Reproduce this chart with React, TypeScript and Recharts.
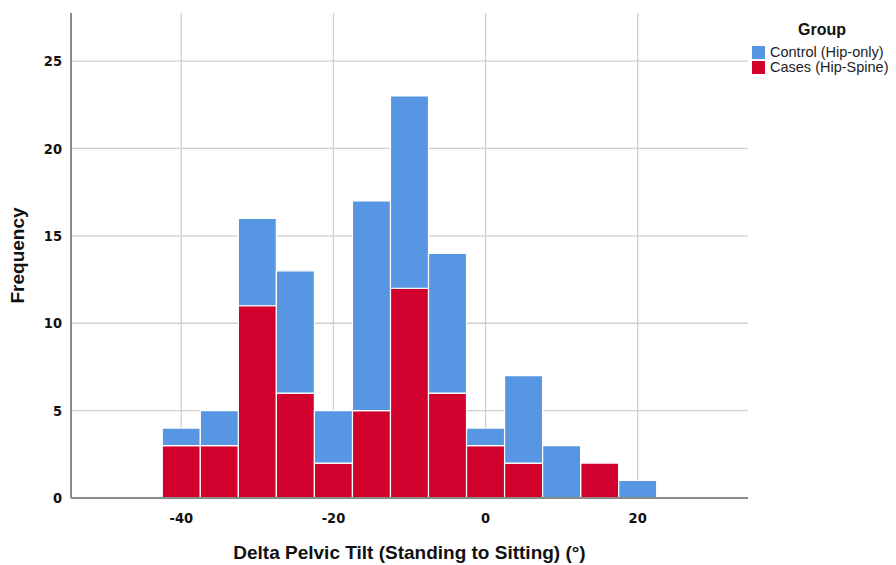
import React from "react";
import {
  ComposedChart,
  Bar,
  XAxis,
  YAxis,
  CartesianGrid,
} from "recharts";

// histogram bin centers (5° wide bins)
const binCenters = [-40, -35, -30, -25, -20, -15, -10, -5, 0, 5, 10, 15, 20];
const casesCounts = [3, 3, 11, 6, 2, 5, 12, 6, 3, 2, 0, 2, 0];
const controlCounts = [1, 2, 5, 7, 3, 12, 11, 8, 1, 5, 3, 0, 1];
const xTicks = [-40, -20, 0, 20];
const yTicks = [0, 5, 10, 15, 20, 25];

const BLUE = "#5696e3";
const RED = "#d2002c";
const tickFont = "'DejaVu Sans Condensed', 'Liberation Sans Narrow', 'Liberation Sans', Arial, sans-serif";
const labelFont = "'Liberation Sans', Arial, sans-serif";

const data = binCenters.map((bin, i) => ({
  bin,
  cases: casesCounts[i],
  control: controlCounts[i],
}));

export default function App() {
  return (
    <div
      style={{
        position: "fixed",
        left: 0,
        top: 0,
        width: 896,
        height: 565,
        background: "#fff",
        fontFamily: labelFont,
      }}
    >
      <ComposedChart
        width={896}
        height={565}
        data={data}
        margin={{ top: 13, right: 148, bottom: 0, left: 0 }}
        barCategoryGap={0}
        barGap={0}
      >
        <CartesianGrid stroke="#cfcfcf" strokeWidth={1.3} horizontalValues={yTicks} verticalValues={xTicks} />
        <XAxis
          dataKey="bin"
          type="number"
          domain={[-54.5, 34.5]}
          ticks={xTicks}
          allowDataOverflow
          height={67}
          tickLine={false}
          axisLine={{ stroke: "#8a8a8a", strokeWidth: 2 }}
          tick={{ fill: "#111", fontSize: 14.5, fontWeight: 700, fontFamily: tickFont }}
          tickMargin={9}
          label={{
            value: "Delta Pelvic Tilt (Standing to Sitting) (°)",
            position: "insideBottom",
            offset: 6,
            fill: "#111",
            fontSize: 19,
            fontWeight: 700,
            fontFamily: labelFont,
          }}
        />
        <YAxis
          type="number"
          domain={[0, 27.75]}
          ticks={yTicks}
          allowDataOverflow
          width={71}
          tickLine={false}
          axisLine={{ stroke: "#8a8a8a", strokeWidth: 2 }}
          tick={{ fill: "#111", fontSize: 14.5, fontWeight: 700, fontFamily: tickFont }}
          tickMargin={3}
          label={{
            value: "Frequency",
            angle: -90,
            position: "insideLeft",
            offset: 17,
            fill: "#111",
            fontSize: 19,
            fontWeight: 700,
            fontFamily: labelFont,
            style: { textAnchor: "middle" },
          }}
        />
        <Bar dataKey="cases" stackId="g" fill={RED} stroke="#fff" strokeWidth={1.2} isAnimationActive={false} />
        <Bar dataKey="control" stackId="g" fill={BLUE} stroke="#fff" strokeWidth={1.2} isAnimationActive={false} />
      </ComposedChart>

      {/* legend */}
      <div style={{ position: "absolute", left: 752, top: 21 }}>
        <div style={{ width: 140, textAlign: "center", fontWeight: 700, fontSize: 16, color: "#111" }}>Group</div>
        <div style={{ marginTop: 6, fontSize: 14.5, color: "#222", lineHeight: "15px" }}>
          <div style={{ display: "flex", alignItems: "center", whiteSpace: "nowrap" }}>
            <span style={{ width: 13, height: 13, background: BLUE, marginRight: 5, display: "inline-block", flexShrink: 0 }} />
            Control (Hip-only)
          </div>
          <div style={{ display: "flex", alignItems: "center", whiteSpace: "nowrap" }}>
            <span style={{ width: 13, height: 13, background: RED, marginRight: 5, display: "inline-block", flexShrink: 0 }} />
            Cases (Hip-Spine)
          </div>
        </div>
      </div>
    </div>
  );
}
